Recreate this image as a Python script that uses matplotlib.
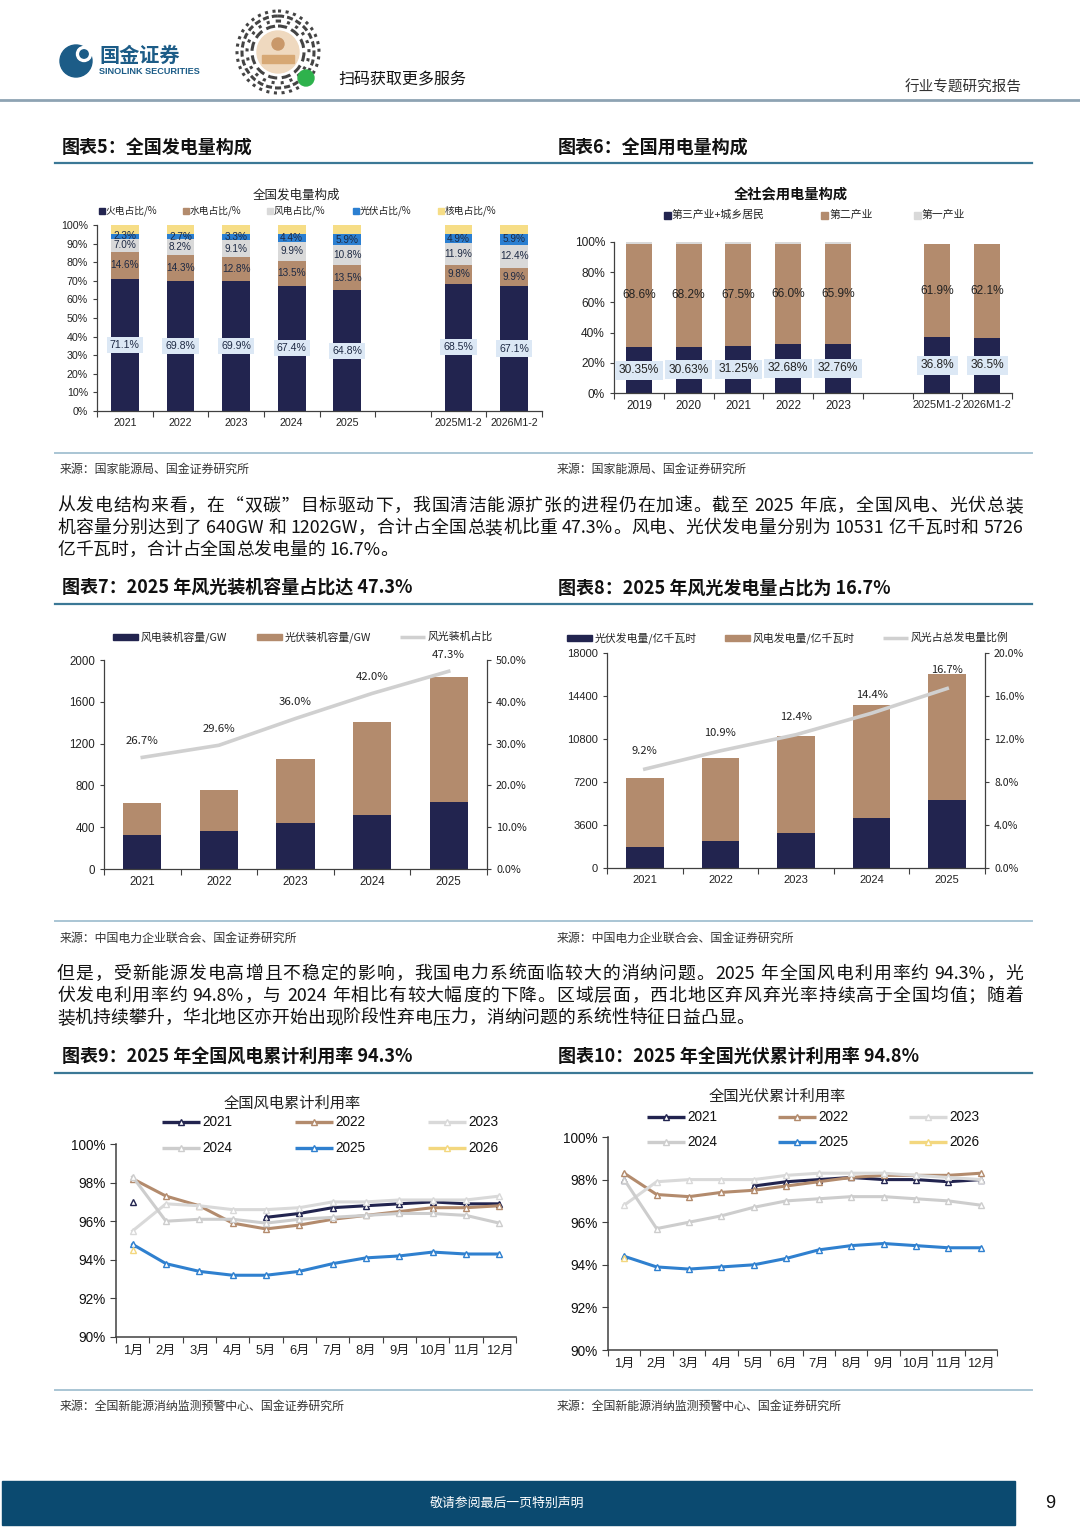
import re
import numpy as np
import matplotlib
matplotlib.use('Agg')
import matplotlib.pyplot as plt
from matplotlib.patches import Rectangle, Circle
from matplotlib.font_manager import FontProperties

CJK = ['Noto Sans CJK SC', 'DejaVu Sans']
SANS = ['Liberation Sans', 'Noto Sans CJK SC', 'DejaVu Sans']
plt.rcParams['font.family'] = CJK
plt.rcParams['axes.unicode_minus'] = False

# ---------------- data ----------------
# 图表5 全国发电量构成 (%)
gen_cats = ['2021', '2022', '2023', '2024', '2025', '2025M1-2', '2026M1-2']
gen_thermal = [71.1, 69.8, 69.9, 67.4, 64.8, 68.5, 67.1]
gen_hydro = [14.6, 14.3, 12.8, 13.5, 13.5, 9.8, 9.9]
gen_wind = [7.0, 8.2, 9.1, 9.9, 10.8, 11.9, 12.4]
gen_solar = [2.3, 2.7, 3.3, 4.4, 5.9, 4.9, 5.9]
gen_nuclear = [5.0, 5.0, 4.9, 4.8, 5.0, 4.9, 4.7]
gen_legend = ['火电占比/%', '水电占比/%', '风电占比/%', '光伏占比/%', '核电占比/%']

# 图表6 全社会用电量构成 (%)
use_cats = ['2019', '2020', '2021', '2022', '2023', '2025M1-2', '2026M1-2']
use_tertiary = [30.35, 30.63, 31.25, 32.68, 32.76, 36.8, 36.5]
use_secondary = [68.6, 68.2, 67.5, 66.0, 65.9, 61.9, 62.1]
use_primary = [1.05, 1.17, 1.25, 1.32, 1.34, 0.0, 0.0]
use_legend = ['第三产业+城乡居民', '第二产业', '第一产业']

# 图表7 风光装机
cap_years = ['2021', '2022', '2023', '2024', '2025']
cap_wind = [328, 365, 441, 521, 640]
cap_solar = [306, 393, 609, 887, 1202]
cap_share = [26.7, 29.6, 36.0, 42.0, 47.3]

# 图表8 风光发电量
out_years = ['2021', '2022', '2023', '2024', '2025']
out_pv = [1800, 2280, 2900, 4160, 5726]
out_wind = [5710, 6920, 8180, 9450, 10531]
out_share = [9.2, 10.9, 12.4, 14.4, 16.7]

# 图表9/10 月度累计利用率 (%)
months = ['1月', '2月', '3月', '4月', '5月', '6月', '7月', '8月', '9月', '10月', '11月', '12月']
util_years = ['2021', '2022', '2023', '2024', '2025', '2026']
nan = np.nan
wind_2021 = [97.0, nan, nan, nan, 96.2, 96.4, 96.7, 96.8, 96.9, 97.0, 96.9, 96.9]
wind_2022 = [98.2, 97.3, 96.8, 95.9, 95.6, 95.8, 96.1, 96.3, 96.5, 96.7, 96.7, 96.8]
wind_2023 = [95.5, 96.9, 96.8, 96.6, 96.6, 96.7, 97.0, 97.0, 97.1, 97.1, 97.1, 97.3]
wind_2024 = [98.3, 96.0, 96.1, 96.1, 95.9, 96.1, 96.2, 96.3, 96.4, 96.4, 96.3, 95.9]
wind_2025 = [94.8, 93.8, 93.4, 93.2, 93.2, 93.4, 93.8, 94.1, 94.2, 94.4, 94.3, 94.3]
wind_2026 = [94.5, nan, nan, nan, nan, nan, nan, nan, nan, nan, nan, nan]
pv_2021 = [98.0, nan, nan, nan, 97.7, 97.9, 98.0, 98.1, 98.0, 98.0, 97.9, 98.0]
pv_2022 = [98.3, 97.3, 97.2, 97.4, 97.5, 97.7, 97.9, 98.1, 98.2, 98.2, 98.2, 98.3]
pv_2023 = [96.8, 97.9, 98.0, 98.0, 98.0, 98.2, 98.3, 98.3, 98.3, 98.2, 98.1, 98.0]
pv_2024 = [98.0, 95.7, 96.0, 96.3, 96.7, 97.0, 97.1, 97.2, 97.2, 97.1, 97.0, 96.8]
pv_2025 = [94.4, 93.9, 93.8, 93.9, 94.0, 94.3, 94.7, 94.9, 95.0, 94.9, 94.8, 94.8]
pv_2026 = [94.3, nan, nan, nan, nan, nan, nan, nan, nan, nan, nan, nan]

# ---------------- colours ----------------
NAVY = '#22244f'
BROWN = '#b38b6d'
LGRAY = '#d9d9d9'
BLUE = '#2b7fd1'
YELLOW = '#f6dd86'
LBOX = '#dce8f5'
AXC = '#404040'
TEAL = '#3b7896'
LINE_COLS = [NAVY, BROWN, '#d9d9d9', '#cdcdcd', '#2f80cf', '#f3d77e']

W, H = 1080, 1527
fig = plt.figure(figsize=(W / 100, H / 100), dpi=100)
fig.patch.set_facecolor('white')
ax0 = fig.add_axes([0, 0, 1, 1])
ax0.set_xlim(0, W)
ax0.set_ylim(H, 0)
ax0.axis('off')


def add_ax(x0, y0, w, h):
    return fig.add_axes([x0 / W, 1 - (y0 + h) / H, w / W, h / H])


def base_style(ax, right=False):
    ax.spines['top'].set_visible(False)
    if not right:
        ax.spines['right'].set_visible(False)
    for s in ['left', 'bottom', 'right']:
        ax.spines[s].set_color(AXC)
        ax.spines[s].set_linewidth(0.9)
    ax.tick_params(colors=AXC, direction='out', length=3, width=0.8)
    ax.set_facecolor('none')


def cat_ticks(ax, pos, labels, nslots, fs, family=SANS):
    ax.set_xlim(-0.5, nslots - 0.5)
    ax.set_xticks(pos, labels=labels, fontsize=fs, family=family, color='#222')
    ax.set_xticks(np.arange(-0.5, nslots, 1.0), minor=True)
    ax.tick_params(axis='x', which='major', length=0, pad=5)
    ax.tick_params(axis='x', which='minor', length=4, width=0.8, color=AXC, direction='out')


# ---------------- header ----------------
ax0.add_patch(Circle((76, 61), 16, color='#1c5c87'))
ax0.add_patch(Circle((84, 54), 7.5, color='white'))
ax0.add_patch(Circle((84, 54), 4.2, color='#1c5c87'))
ax0.text(99, 55, '国金证券', fontsize=14.5, weight='bold', color='#1c5c87', va='center', ha='left')
ax0.text(99, 72, 'SINOLINK SECURITIES', fontsize=6.6, weight='bold', color='#1c5c87', va='center', ha='left',
         family=SANS)
# QR-style badge
for r, dash in [(41, (1, 1.5)), (36, (2, 1)), (31, (1, 2)), (26, (3, 1.5))]:
    ax0.add_patch(Circle((278, 52), r, fill=False, ec='#444444', lw=2.2, ls=(0, dash)))
ax0.add_patch(Circle((278, 52), 21, color='#efd9bf'))
ax0.add_patch(Circle((278, 44), 6, color='#c9986a'))
ax0.add_patch(Rectangle((262, 55), 32, 8, color='#d7a874'))
ax0.add_patch(Circle((306, 78), 8, color='#2eb24c'))
ax0.text(338, 80, '扫码获取更多服务', fontsize=11.5, va='center', ha='left', color='#111')
ax0.text(1022, 88, '行业专题研究报告', fontsize=10.5, va='center', ha='right', color='#333')
ax0.plot([0, 1080], [100, 100], color='#8ea3b3', lw=2)

# ---------------- section titles / rules ----------------
def section(y_title, y_rule, left, right):
    ax0.text(62, y_title, left, fontsize=13, weight='bold', va='center', ha='left', color='#111')
    ax0.text(558, y_title, right, fontsize=13, weight='bold', va='center', ha='left', color='#111')
    ax0.plot([55, 1032], [y_rule, y_rule], color=TEAL, lw=1.6)


def sources(y_rule, y_text, txt):
    ax0.plot([55, 1032], [y_rule, y_rule], color='#a9c5d4', lw=1.4)
    ax0.text(60, y_text, txt, fontsize=8.6, va='center', ha='left', color='#333')
    ax0.text(557, y_text, txt, fontsize=8.6, va='center', ha='left', color='#333')


section(147, 163, '图表5：全国发电量构成', '图表6：全国用电量构成')
sources(453, 469, '来源：国家能源局、国金证券研究所')
section(588, 604, '图表7：2025 年风光装机容量占比达 47.3%', '图表8：2025 年风光发电量占比为 16.7%')
sources(921, 938, '来源：中国电力企业联合会、国金证券研究所')
section(1056, 1073, '图表9：2025 年全国风电累计利用率 94.3%', '图表10：2025 年全国光伏累计利用率 94.8%')
sources(1390, 1406, '来源：全国新能源消纳监测预警中心、国金证券研究所')

# ---------------- paragraphs (justified) ----------------
para1 = ['从发电结构来看，在“双碳”目标驱动下，我国清洁能源扩张的进程仍在加速。截至 2025 年底，全国风电、光伏总装',
         '机容量分别达到了 640GW 和 1202GW，合计占全国总装机比重 47.3%。风电、光伏发电量分别为 10531 亿千瓦时和 5726',
         '亿千瓦时，合计占全国总发电量的 16.7%。']
para2 = ['但是，受新能源发电高增且不稳定的影响，我国电力系统面临较大的消纳问题。2025 年全国风电利用率约 94.3%，光',
         '伏发电利用率约 94.8%，与 2024 年相比有较大幅度的下降。区域层面，西北地区弃风弃光率持续高于全国均值；随着',
         '装机持续攀升，华北地区亦开始出现阶段性弃电压力，消纳问题的系统性特征日益凸显。']

renderer = fig.canvas.get_renderer()
X_L, X_R = 57, 1023


def tw(s, fp):
    w, h, d = renderer.get_text_width_height_descent(s, fp, ismath=False)
    return w


fp13 = FontProperties(family=CJK, size=13)
widest = max(tw(l, fp13) for l in [para1[0], para1[1], para2[0], para2[1]])
PFS = min(13.6, 13 * (X_R - X_L) / widest * 0.985)
fpP = FontProperties(family=CJK, size=PFS)


def draw_line(s, y, justify):
    toks = re.findall(r'[0-9A-Za-z.%]+|\s|.', s)
    widths = [tw(t, fpP) if t.strip() else tw('a a', fpP) - tw('aa', fpP) for t in toks]
    gap = 0.0
    if justify and len(toks) > 1:
        gap = ((X_R - X_L) - sum(widths)) / (len(toks) - 1)
    x = X_L
    for t, w in zip(toks, widths):
        if t.strip():
            ax0.text(x, y, t, fontproperties=fpP, va='center', ha='left', color='#111')
        x += w + gap


for i, (l, y) in enumerate(zip(para1, [506, 528, 550])):
    draw_line(l, y, i < 2)
for i, (l, y) in enumerate(zip(para2, [974, 996, 1018])):
    draw_line(l, y, i < 2)

# ---------------- 图表5 ----------------
ax0.text(296, 195, '全国发电量构成', fontsize=9, ha='center', va='center', color='#222')
cols5 = [NAVY, BROWN, LGRAY, BLUE, YELLOW]
for xl, lab, c in zip([102, 186, 270, 356, 441], gen_legend, cols5):
    ax0.add_patch(Rectangle((xl - 3, 208), 6, 6, color=c))
    ax0.text(xl + 4, 211, lab, fontsize=7, ha='left', va='center', color='#222')

ax5 = add_ax(97, 225, 445, 186)
base_style(ax5)
n5 = len(gen_cats)
x5 = np.arange(n5) + (np.arange(n5) >= 5)
base = np.zeros(n5)
for i, (vals, col) in enumerate(zip([gen_thermal, gen_hydro, gen_wind, gen_solar, gen_nuclear], cols5)):
    v = np.asarray(vals, float)
    ax5.bar(x5, v, 0.5, bottom=base, color=col, zorder=2)
    if i < 4:
        for xi, b, vi in zip(x5, base, v):
            kw = {}
            fs = 7.2
            if i == 0:
                kw = dict(bbox=dict(boxstyle='square,pad=0.3', fc=LBOX, ec='none'))
                fs = 7.6
            ax5.text(xi, b + vi / 2, f'{vi:.1f}%', ha='center', va='center', fontsize=fs, family=SANS,
                     color='#1e2a44', zorder=3, **kw)
    base += v
ax5.set_ylim(0, 100)
ax5.set_yticks(np.arange(0, 101, 10), labels=[f'{t}%' for t in range(0, 101, 10)], fontsize=7.7, family=SANS,
               color='#222')
cat_ticks(ax5, x5, gen_cats, 8, 7.7)

# ---------------- 图表6 ----------------
ax0.text(791, 194, '全社会用电量构成', fontsize=10.3, weight='bold', ha='center', va='center', color='#111')
cols6 = [NAVY, BROWN, LGRAY]
for xl, lab, c in zip([667, 824, 917], use_legend, cols6):
    ax0.add_patch(Rectangle((xl - 3.5, 211.5), 7, 7, color=c))
    ax0.text(xl + 5, 215, lab, fontsize=7.8, ha='left', va='center', color='#222')

ax6 = add_ax(614, 242, 398, 151)
base_style(ax6)
n6 = len(use_cats)
x6 = np.arange(n6) + (np.arange(n6) >= 5)
base = np.zeros(n6)
for i, (vals, col) in enumerate(zip([use_tertiary, use_secondary, use_primary], cols6)):
    v = np.asarray(vals, float)
    ax6.bar(x6, v, 0.52, bottom=base, color=col, zorder=2)
    if i < 2:
        for xi, b, vi in zip(x6, base, v):
            kw = {}
            if i == 0:
                kw = dict(bbox=dict(boxstyle='square,pad=0.3', fc=LBOX, ec='none'))
            txt = f'{vi:.2f}%' if i == 0 and xi < 5 else f'{vi:.1f}%'
            ax6.text(xi, b + vi / 2, txt, ha='center', va='center', fontsize=8.6, family=SANS,
                     color='#222', zorder=3, **kw)
    base += v
ax6.set_ylim(0, 100)
ax6.set_yticks(np.arange(0, 101, 20), labels=[f'{t}%' for t in range(0, 101, 20)], fontsize=8.6, family=SANS,
               color='#222')
cat_ticks(ax6, x6, use_cats, 8, 8.4)
for lbl in ax6.get_xticklabels()[5:]:
    lbl.set_fontsize(7.8)

# ---------------- 图表7 ----------------
def legend_bars(items, y):
    for xl, kind, c, lab in items:
        if kind == 'patch':
            ax0.add_patch(Rectangle((xl, y - 3), 25, 6, color=c))
        else:
            ax0.plot([xl, xl + 25], [y, y], color=c, lw=2.5, solid_capstyle='butt')
        ax0.text(xl + 28, y, lab, fontsize=7.8, ha='left', va='center', color='#222')


legend_bars([(113, 'patch', NAVY, '风电装机容量/GW'), (257, 'patch', BROWN, '光伏装机容量/GW'),
             (400, 'line', '#d0d0d0', '风光装机占比')], 637)
ax7 = add_ax(104, 660, 383, 209)
base_style(ax7)
x7 = np.arange(len(cap_years))
ax7.bar(x7, cap_wind, 0.5, color=NAVY, zorder=2)
ax7.bar(x7, cap_solar, 0.5, bottom=cap_wind, color=BROWN, zorder=2)
ax7.set_ylim(0, 2000)
ax7.set_yticks(np.arange(0, 2001, 400), labels=[str(t) for t in range(0, 2001, 400)], fontsize=8.3, family=SANS,
               color='#222')
cat_ticks(ax7, x7, cap_years, 5, 8.3)
ax7b = ax7.twinx()
for s in ['top', 'left', 'bottom']:
    ax7b.spines[s].set_visible(False)
ax7b.spines['right'].set_color(AXC)
ax7b.spines['right'].set_linewidth(0.9)
ax7b.plot(x7, cap_share, color='#d0d0d0', lw=2.6, zorder=3)
for xi, v in zip(x7, cap_share):
    ax7b.annotate(f'{v:.1f}%', (xi, v), xytext=(0, 12), textcoords='offset points', ha='center', va='center',
                  fontsize=8.2, color='#222')
ax7b.set_ylim(0, 50)
ax7b.set_yticks(np.arange(0, 51, 10), labels=[f'{t:.1f}%' for t in range(0, 51, 10)], fontsize=7.8,
                color='#222')
ax7b.tick_params(axis='y', colors=AXC, direction='out', length=3, width=0.8, labelcolor='#222')

# ---------------- 图表8 ----------------
legend_bars([(567, 'patch', NAVY, '光伏发电量/亿千瓦时'), (725, 'patch', BROWN, '风电发电量/亿千瓦时'),
             (883, 'line', '#d0d0d0', '风光占总发电量比例')], 638)
ax8 = add_ax(607, 653, 378, 215)
base_style(ax8)
x8 = np.arange(len(out_years))
ax8.bar(x8, out_pv, 0.5, color=NAVY, zorder=2)
ax8.bar(x8, out_wind, 0.5, bottom=out_pv, color=BROWN, zorder=2)
ax8.set_ylim(0, 18000)
ax8.set_yticks(np.arange(0, 18001, 3600), labels=[str(t) for t in range(0, 18001, 3600)], fontsize=8,
               family=SANS, color='#222')
cat_ticks(ax8, x8, out_years, 5, 8)
ax8b = ax8.twinx()
for s in ['top', 'left', 'bottom']:
    ax8b.spines[s].set_visible(False)
ax8b.spines['right'].set_color(AXC)
ax8b.spines['right'].set_linewidth(0.9)
ax8b.plot(x8, out_share, color='#d0d0d0', lw=2.6, zorder=3)
for xi, v in zip(x8, out_share):
    ax8b.annotate(f'{v:.1f}%', (xi, v), xytext=(0, 13), textcoords='offset points', ha='center', va='center',
                  fontsize=8, color='#222')
ax8b.set_ylim(0, 20)
ax8b.set_yticks(np.arange(0, 21, 4), labels=[f'{t:.1f}%' for t in range(0, 21, 4)], fontsize=7.6,
                color='#222')
ax8b.tick_params(axis='y', colors=AXC, direction='out', length=3, width=0.8, labelcolor='#222')

# ---------------- 图表9 / 图表10 ----------------
def util_chart(rect, series, title, tpos, leg_x, leg_y):
    ax0.text(tpos[0], tpos[1], title, fontsize=11, ha='center', va='center', color='#222')
    for k, (yr, c) in enumerate(zip(util_years, LINE_COLS)):
        lx = leg_x[k % 3]
        ly = leg_y[k // 3]
        ax0.plot([lx, lx + 38], [ly, ly], color=c, lw=2.4, solid_capstyle='butt')
        ax0.plot([lx + 19], [ly], marker='^', ms=5, mfc='white', mec=c, mew=1)
        ax0.text(lx + 40, ly, yr, fontsize=9.8, family=SANS, ha='left', va='center', color='#111')
    ax = add_ax(*rect)
    base_style(ax)
    ax.spines['left'].set_linewidth(1.1)
    ax.spines['bottom'].set_linewidth(1.1)
    xm = np.arange(len(months))
    for vals, c in zip(series, LINE_COLS):
        ax.plot(xm, np.asarray(vals, float), color=c, lw=2.2, marker='^', ms=4.8, mfc='white', mec=c,
                mew=1, zorder=3)
    ax.set_ylim(90, 100)
    ax.set_yticks(np.arange(90, 101, 2), labels=[f'{t}%' for t in range(90, 101, 2)], fontsize=9.8,
                  family=SANS, color='#111')
    ax.tick_params(axis='y', length=4)
    cat_ticks(ax, xm, months, 12, 9.4)
    ax.tick_params(axis='x', which='major', pad=6)
    return ax


util_chart((116, 1144, 400, 193), [wind_2021, wind_2022, wind_2023, wind_2024, wind_2025, wind_2026],
           '全国风电累计利用率', (292, 1103), [162, 295, 428], [1122, 1148])
util_chart((608, 1137, 389, 213), [pv_2021, pv_2022, pv_2023, pv_2024, pv_2025, pv_2026],
           '全国光伏累计利用率', (777, 1096), [647, 778, 909], [1117, 1142])

# ---------------- footer ----------------
ax0.add_patch(Rectangle((2, 1481), 1013, 44, color='#0b4a70'))
ax0.text(507, 1503, '敬请参阅最后一页特别声明', fontsize=9.3, color='white', ha='center', va='center')
ax0.text(1050, 1503, '9', fontsize=13, color='#111', ha='center', va='center', family=SANS)

fig.savefig('out.png', dpi=100, facecolor='white')
